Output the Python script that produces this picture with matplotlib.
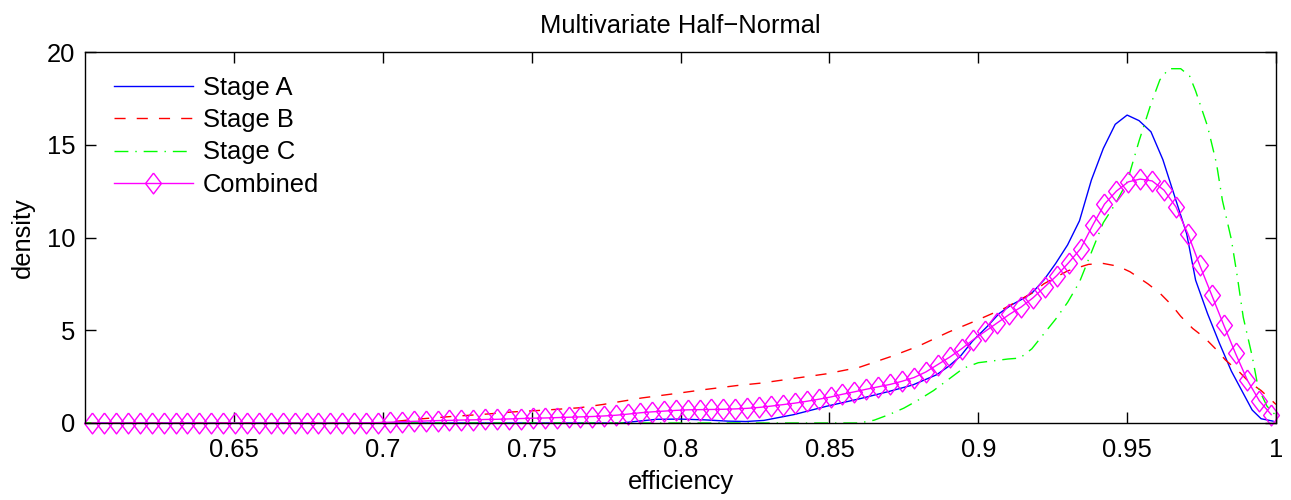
import numpy as np
import matplotlib
matplotlib.use("Agg")
import matplotlib.pyplot as plt

plt.rcParams['font.family'] = ['Liberation Sans', 'DejaVu Sans']

# Stage A (blue, solid)
a_x = [0.600, 0.780, 0.786, 0.792, 0.800, 0.808, 0.816, 0.822, 0.828, 0.838,
       0.849, 0.860, 0.870, 0.878, 0.886, 0.890, 0.894, 0.898, 0.903, 0.907,
       0.911, 0.915, 0.918, 0.922, 0.926, 0.930, 0.934, 0.938, 0.942, 0.946,
       0.950, 0.954, 0.958, 0.962, 0.966, 0.970, 0.973, 0.977, 0.981, 0.985,
       0.989, 0.992, 0.995, 0.999]
a_y = [0.0, 0.0, 0.1, 0.2, 0.21, 0.17, 0.1, 0.08, 0.14, 0.45,
       0.9, 1.3, 1.7, 2.05, 2.6, 3.05, 3.6, 4.4, 5.2, 5.9,
       6.35, 6.7, 7.0, 7.7, 8.6, 9.6, 10.9, 13.1, 14.8, 16.1,
       16.6, 16.3, 15.7, 14.2, 12.2, 10.2, 7.7, 5.9, 4.3, 2.8,
       1.6, 0.7, 0.23, 0.1]

# Stage B (red, dashed)
b_x = [0.600, 0.698, 0.705, 0.711, 0.723, 0.734, 0.744, 0.755, 0.766, 0.774,
       0.787, 0.798, 0.808, 0.819, 0.827, 0.838, 0.849, 0.860, 0.871, 0.880,
       0.890, 0.899, 0.909, 0.918, 0.922, 0.930, 0.937, 0.942, 0.947, 0.951,
       0.957, 0.961, 0.965, 0.968, 0.972, 0.976, 0.980, 0.983, 0.988, 0.991,
       0.995, 0.998, 1.000]
b_y = [0.0, 0.0, 0.1, 0.2, 0.35, 0.47, 0.6, 0.7, 0.82, 1.0,
       1.35, 1.58, 1.8, 2.02, 2.15, 2.4, 2.65, 3.0, 3.6, 4.15,
       4.9, 5.5, 6.2, 7.0, 7.5, 8.2, 8.55, 8.6, 8.45, 8.15,
       7.5, 7.0, 6.35, 5.75, 5.1, 4.6, 3.95, 3.4, 2.7, 2.2,
       1.75, 1.3, 1.0]

# Stage C (green, dash-dot)
c_x = [0.600, 0.860, 0.865, 0.870, 0.875, 0.880, 0.885, 0.890, 0.895, 0.900,
       0.905, 0.910, 0.914, 0.918, 0.922, 0.926, 0.930, 0.934, 0.938, 0.942,
       0.946, 0.950, 0.954, 0.958, 0.961, 0.964, 0.968, 0.971, 0.973, 0.977,
       0.980, 0.982, 0.985, 0.987, 0.989, 0.992, 0.994, 0.997, 1.000]
c_y = [0.0, 0.0, 0.15, 0.45, 0.8, 1.25, 1.75, 2.35, 2.95, 3.25,
       3.35, 3.45, 3.5, 4.0, 4.8, 5.6, 6.5, 7.6, 9.2, 10.8,
       11.8, 13.0, 15.2, 17.2, 18.5, 19.1, 19.1, 18.7, 17.9, 16.0,
       14.0, 12.0, 9.9, 7.9, 5.7, 3.6, 1.9, 0.9, 0.4]

# Combined (magenta, diamonds) on an even 100-point grid
comb_x = np.linspace(0.6024, 0.9984, 100)
comb_y = [0.0, 0.0, 0.0, 0.0, 0.0, 0.0, 0.0, 0.0, 0.0, 0.0,
          0.0, 0.0, 0.0, 0.0, 0.0, 0.0, 0.0, 0.0, 0.0, 0.0,
          0.0, 0.0, 0.0, 0.01, 0.02, 0.04, 0.07, 0.09, 0.11, 0.13,
          0.14, 0.16, 0.17, 0.19, 0.20, 0.22, 0.24, 0.26, 0.27, 0.29,
          0.31, 0.33, 0.35, 0.38, 0.42, 0.48, 0.55, 0.60, 0.64, 0.68,
          0.71, 0.72, 0.73, 0.74, 0.76, 0.79, 0.84, 0.91, 0.99, 1.07,
          1.17, 1.28, 1.40, 1.55, 1.68, 1.82, 1.95, 2.08, 2.25, 2.45,
          2.75, 3.15, 3.55, 4.0, 4.5, 4.95, 5.4, 5.85, 6.25, 6.75,
          7.35, 7.95, 8.65, 9.4, 10.65, 11.8, 12.5, 13.0, 13.15, 13.05,
          12.55, 11.65, 10.2, 8.5, 6.9, 5.3, 3.75, 2.3, 1.2, 0.45]

x_ticks = [0.65, 0.7, 0.75, 0.8, 0.85, 0.9, 0.95, 1]
y_ticks = [0, 5, 10, 15, 20]

fs = 18.4
diamond = [(0, 1), (0.76, 0), (0, -1), (-0.76, 0), (0, 1)]

fig = plt.figure(figsize=(12.91, 5.0), dpi=100)
ax = fig.add_axes([85 / 1291, 77 / 500, 1191 / 1291, 371 / 500])

ax.plot(a_x, a_y, color=(0, 0, 1), lw=1.0, label='Stage A')
ax.plot(b_x, b_y, color=(1, 0, 0), lw=1.0, ls=(0, (8, 8)), label='Stage B')
ax.plot(c_x, c_y, color=(0, 1, 0), lw=1.0, ls=(0, (10, 5, 1, 5)), label='Stage C')
ax.plot(comb_x, comb_y, color=(1, 0, 1), lw=1.0, marker=diamond, ms=15,
        mfc='none', mec=(1, 0, 1), mew=1.0, label='Combined', clip_on=False)

ax.set_xlim(0.6, 1.0)
ax.set_ylim(0, 20)
ax.set_xticks(x_ticks)
ax.set_xticklabels(['0.65', '0.7', '0.75', '0.8', '0.85', '0.9', '0.95', '1'])
ax.set_yticks(y_ticks)
ax.tick_params(direction='in', length=8, width=1, top=True, right=True,
               labelsize=fs)
ax.tick_params(axis='y', pad=7)
ax.tick_params(axis='x', pad=11)
for s in ax.spines.values():
    s.set_linewidth(1.0)

ax.set_title('Multivariate Half\u2212Normal', fontsize=fs, pad=14)
ax.set_xlabel('efficiency', fontsize=fs)
ax.set_ylabel('density', fontsize=fs)
ax.xaxis.set_label_coords(0.5, -0.128)
ax.yaxis.set_label_coords(-0.042, 0.5)

ax.legend(loc='upper left', bbox_to_anchor=(0.024, 0.935), frameon=False,
          fontsize=fs, handlelength=3.1, handletextpad=0.4, labelspacing=0.32,
          borderpad=0, borderaxespad=0, numpoints=1)

fig.savefig('out.png', dpi=100)
